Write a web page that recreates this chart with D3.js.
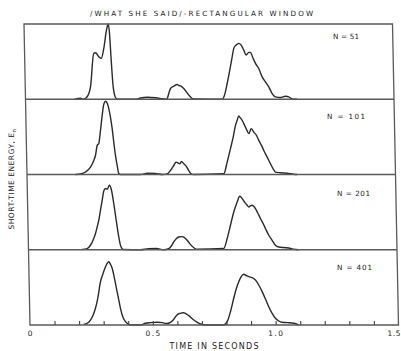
<!DOCTYPE html>
<html>
<head>
<meta charset="utf-8">
<script src="https://cdn.jsdelivr.net/npm/d3@7"></script>
<style>
  html, body { margin: 0; padding: 0; background: #fff; }
  svg { display: block; }
  text { font-family: "DejaVu Sans", "Liberation Sans", sans-serif; fill: #222; }
</style>
</head>
<body>
<svg id="chart" width="401" height="351"></svg>
<script>
// ---------------- data ----------------
const title = "/WHAT SHE SAID/-RECTANGULAR WINDOW";
const xLabel = "TIME IN SECONDS";
const yLabel = "SHORT-TIME ENERGY, E";
const yLabelSub = "n";
const panelLabels = ["N = 51", "N = 101", "N = 201", "N = 401"];
const xTickLabels = [0, 0.5, 1.0, 1.5];
const xMinorTicks = [0.1, 0.2, 0.3, 0.4, 0.5, 0.6, 0.7, 0.8, 0.9, 1.0, 1.1, 1.2, 1.3, 1.4];

// time (s) and normalised energy (fraction of panel height)
const t51 = [0.200,0.224,0.236,0.2526,0.2656,0.2817,0.2887,0.3018,0.3114,0.3228,0.3353,0.3427,0.3472,0.352,0.358,0.3665,0.3744,0.4477,0.468,0.4968,0.529,0.5576,0.5739,0.5768,0.5837,0.591,0.6046,0.6186,0.625,0.632,0.6451,0.6586,0.6718,0.6826,0.8005,0.8103,0.8222,0.8339,0.8447,0.8519,0.8619,0.8726,0.8823,0.8925,0.9018,0.9126,0.9195,0.9285,0.939,0.952,0.9652,0.9782,0.9912,1.0045,1.0177,1.038,1.0584,1.0718,1.0855,1.1058];
const e51 = [0,0.013,0,0.04,0.164,0.609,0.617,0.564,0.543,0.676,0.92,1.0,0.876,0.52,0.164,0.023,0,0,0.017,0.027,0.02,0.007,0,0.009,0.076,0.143,0.173,0.196,0.183,0.177,0.143,0.084,0.031,0.004,0,0.053,0.209,0.387,0.564,0.676,0.72,0.743,0.72,0.653,0.587,0.623,0.623,0.556,0.476,0.409,0.297,0.231,0.164,0.076,0.031,0.023,0.04,0.031,0.004,0];

const t101 = [0.1974,0.2177,0.2383,0.2591,0.273,0.2803,0.2881,0.2948,0.3027,0.3109,0.3183,0.3254,0.3322,0.3383,0.3445,0.3505,0.3559,0.3617,0.3678,0.3737,0.3805,0.462,0.4906,0.5231,0.5515,0.5707,0.5844,0.5982,0.6083,0.6163,0.6228,0.6299,0.639,0.6486,0.6589,0.6683,0.6777,0.801,0.8158,0.8303,0.8423,0.8526,0.8599,0.8668,0.8736,0.8803,0.8865,0.8958,0.906,0.9162,0.9265,0.9372,0.9462,0.9568,0.9657,0.979,0.9919,1.0025,1.0116,1.0319,1.0591,1.0859,1.0997];
const e101 = [0,0.007,0.033,0.097,0.187,0.253,0.387,0.413,0.587,0.787,0.933,0.973,0.947,0.876,0.76,0.609,0.427,0.253,0.12,0.013,0,0,0.017,0.013,0,0.009,0.053,0.12,0.164,0.151,0.143,0.173,0.143,0.111,0.053,0.009,0,0.009,0.164,0.343,0.497,0.653,0.72,0.777,0.751,0.72,0.676,0.609,0.543,0.609,0.564,0.52,0.453,0.387,0.32,0.231,0.143,0.076,0.031,0.023,0.017,0.004,0];

const t201 = [0.2185,0.239,0.2527,0.2666,0.274,0.2814,0.2885,0.2962,0.304,0.3112,0.3183,0.3252,0.3349,0.3426,0.3509,0.3569,0.3628,0.3685,0.3748,0.3854,0.4558,0.4884,0.5209,0.5494,0.571,0.581,0.592,0.6032,0.6127,0.6225,0.6306,0.6387,0.6466,0.6569,0.6665,0.6757,0.6866,0.7949,0.8096,0.8241,0.8386,0.8533,0.8643,0.8739,0.883,0.8937,0.9001,0.9071,0.914,0.9272,0.9362,0.9467,0.9573,0.9663,0.9792,0.9926,1.0056,1.0189,1.0392,1.0595,1.0798,1.0989];
const e201 = [0.003,0.016,0.06,0.149,0.215,0.303,0.392,0.525,0.658,0.781,0.813,0.804,0.857,0.791,0.614,0.458,0.303,0.17,0.06,0.003,0,0.013,0.016,0,0.016,0.047,0.104,0.149,0.17,0.175,0.17,0.153,0.126,0.082,0.047,0.02,0.007,0.016,0.149,0.326,0.502,0.635,0.711,0.68,0.635,0.591,0.569,0.582,0.591,0.547,0.489,0.415,0.349,0.282,0.193,0.126,0.06,0.037,0.029,0.024,0.007,0];

const t401 = [0.2189,0.2328,0.2466,0.258,0.2678,0.278,0.2904,0.302,0.312,0.3191,0.3258,0.3325,0.3391,0.3476,0.3549,0.3623,0.3696,0.3783,0.3889,0.4021,0.4118,0.4497,0.4701,0.4906,0.519,0.5394,0.5556,0.572,0.5832,0.5928,0.6023,0.6134,0.6245,0.6337,0.647,0.6566,0.667,0.6806,0.6939,0.7073,0.7183,0.7887,0.8028,0.8171,0.8315,0.8433,0.8533,0.8635,0.8742,0.8851,0.8944,0.9081,0.9214,0.9344,0.9477,0.9605,0.9733,0.9866,0.9996,1.0129,1.0266,1.0469,1.0737,1.0939];
const e401 = [0.009,0.023,0.066,0.133,0.222,0.355,0.575,0.687,0.775,0.82,0.841,0.807,0.754,0.621,0.488,0.355,0.222,0.11,0.044,0.009,0,0,0.023,0.031,0.036,0.031,0.02,0.036,0.066,0.11,0.142,0.155,0.163,0.155,0.124,0.097,0.066,0.036,0.013,0.004,0,0,0.044,0.177,0.355,0.488,0.575,0.642,0.674,0.655,0.642,0.629,0.598,0.532,0.443,0.346,0.243,0.155,0.089,0.053,0.036,0.031,0.023,0];

const seriesT = [t51, t101, t201, t401];
const seriesE = [e51, e101, e201, e401];

// ---------------- layout ----------------
const svg = d3.select("#chart");
const plotLeft = 24, plotTop = 24, W = 368.5, H = 301;
const skew = Math.atan(6 / H) * 180 / Math.PI;   // scanned figure is slightly sheared
const panelH = H / 4;

const x = d3.scaleLinear().domain([0, 1.5]).range([0, W]);

const g = svg.append("g").attr("transform", `translate(${plotLeft},${plotTop}) skewX(${skew})`);

// curves
const line = d3.line().curve(d3.curveMonotoneX);
seriesT.forEach((ts, i) => {
  const y = d3.scaleLinear().domain([0, 1]).range([(i + 1) * panelH, i * panelH]);
  const pts = d3.zip(ts, seriesE[i]);
  g.append("path")
    .attr("d", line.x(d => x(d[0])).y(d => y(d[1]))(pts))
    .attr("fill", "none")
    .attr("stroke", "#2a2a2a")
    .attr("stroke-width", 1.4)
    .attr("stroke-linejoin", "round");
});

// frame and panel dividers
g.append("rect").attr("x", 0).attr("y", 0).attr("width", W).attr("height", H)
  .attr("fill", "none").attr("stroke", "#5a5a5a").attr("stroke-width", 1.3);
[1, 2, 3].forEach(k => {
  g.append("line").attr("x1", 0).attr("x2", W)
    .attr("y1", k * panelH).attr("y2", k * panelH)
    .attr("stroke", "#5a5a5a").attr("stroke-width", 1.3);
});

// inward minor ticks
const tickAxis = g.append("g").attr("transform", `translate(0,${H})`)
  .call(d3.axisBottom(x).tickValues(xMinorTicks).tickSize(-4).tickFormat(""));
tickAxis.select(".domain").remove();
tickAxis.selectAll(".tick line").attr("stroke", "#444").attr("stroke-width", 1.1);

// tick labels
const labAxis = g.append("g").attr("transform", `translate(0,${H})`)
  .call(d3.axisBottom(x).tickValues(xTickLabels).tickSize(0).tickPadding(5.5)
    .tickFormat(d => d === 0 ? "0" : d3.format(".1f")(d)));
labAxis.select(".domain").remove();
labAxis.selectAll(".tick text")
  .attr("font-family", "DejaVu Sans, sans-serif")
  .attr("font-size", 7.5)
  .attr("letter-spacing", 1.4)
  .attr("fill", "#222");
// last label sits against the right edge of the figure
labAxis.selectAll(".tick text").filter(d => d === 1.5)
  .attr("text-anchor", "end").attr("letter-spacing", 0.6).attr("dx", 2);

// panel labels
const labelPos = [[333, 38.5, 26], [327, 119, 38], [337, 196, 33], [337, 270, 35]];
panelLabels.forEach((s, i) => {
  svg.append("text").attr("x", labelPos[i][0]).attr("y", labelPos[i][1])
    .attr("font-size", 7.2).attr("textLength", labelPos[i][2]).attr("lengthAdjust", "spacing")
    .text(s);
});

// title
svg.append("text").attr("x", 90).attr("y", 16)
  .attr("font-size", 7.2).attr("textLength", 223).attr("lengthAdjust", "spacing")
  .text(title);

// x label
svg.append("text").attr("x", 169.5).attr("y", 349.3)
  .attr("font-size", 8).attr("textLength", 89).attr("lengthAdjust", "spacing")
  .text(xLabel);

// y label
const yl = svg.append("text")
  .attr("transform", "translate(14,179) rotate(-90)")
  .attr("text-anchor", "middle")
  .attr("font-size", 7.5)
  .attr("letter-spacing", 0.5);
yl.append("tspan").text(yLabel);
yl.append("tspan").attr("dy", 2).attr("font-size", 5.5).text(yLabelSub);
</script>
</body>
</html>
